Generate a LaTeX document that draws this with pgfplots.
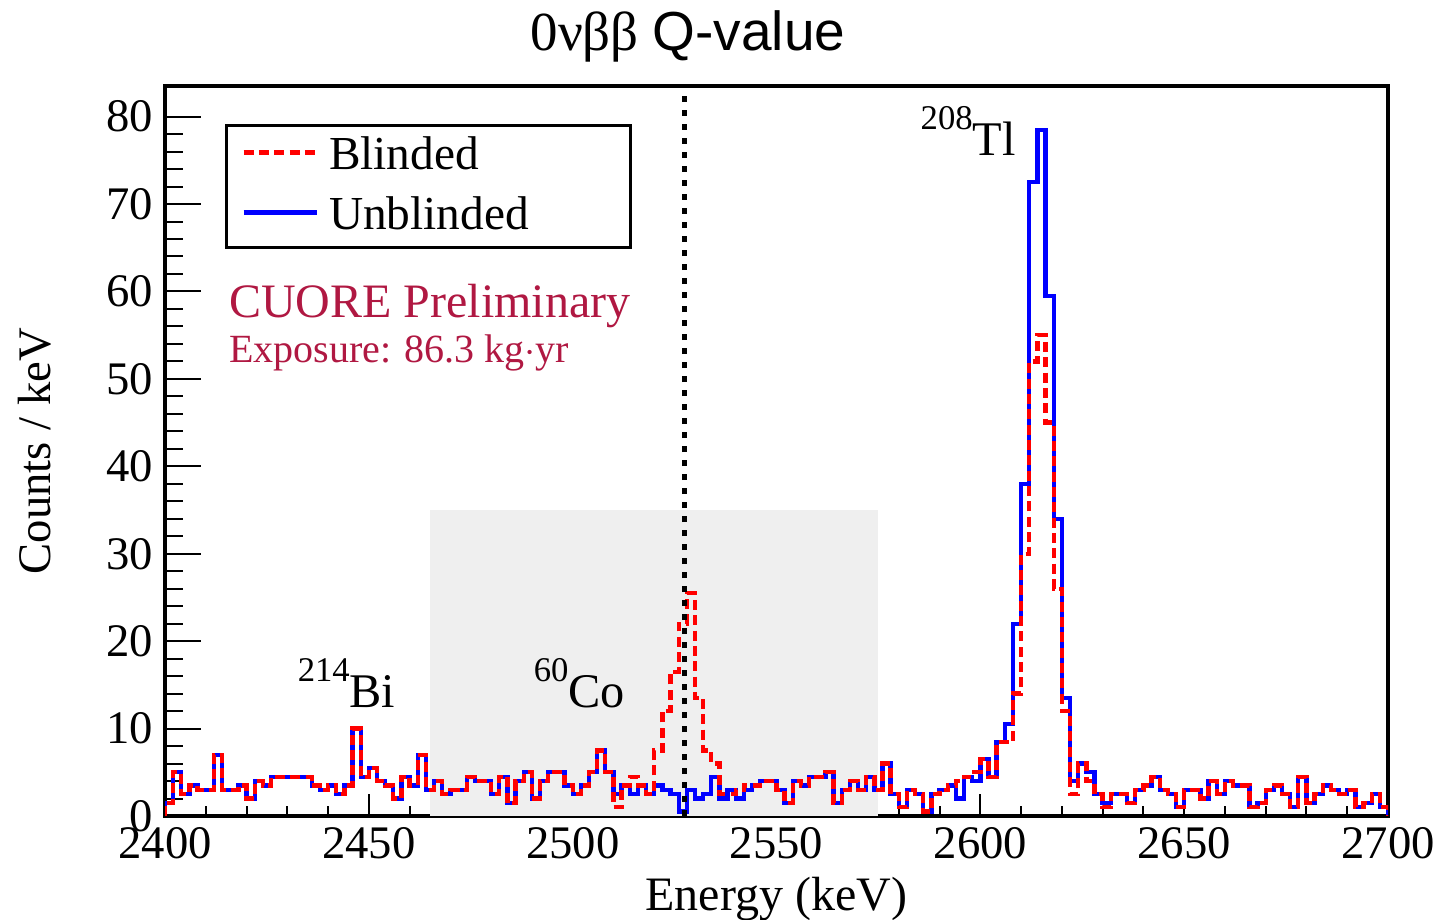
\documentclass[border=0pt]{standalone}
\usepackage{fontspec}
\setmainfont{Liberation Serif}
\newfontfamily\sansfont{Liberation Sans}
\usepackage{pgfplots}
\usepackage{pgfplotstable}
\pgfplotsset{compat=1.18}
\definecolor{shade}{RGB}{239,239,239}
\definecolor{cuore}{RGB}{176,24,66}

\pgfplotstableread{
x b r
2400 0 0
2400 1.5 1.5
2402 5 5
2404 2.5 2.5
2406 3.5 3.5
2408 3 3
2410 3 3
2412 7 7
2414 3 3
2416 3 3
2418 3.5 3.5
2420 2 2
2422 4 4
2424 3.5 3.5
2426 4.5 4.5
2428 4.5 4.5
2430 4.5 4.5
2432 4.5 4.5
2434 4.5 4.5
2436 3.5 3.5
2438 3 3
2440 3.5 3.5
2442 2.5 2.5
2444 3.5 3.5
2446 10 10
2448 4.5 4.5
2450 5.5 5.5
2452 4 4
2454 3.5 3.5
2456 2 2
2458 4.5 4.5
2460 3.5 3.5
2462 7 7
2464 3 3
2466 4 4
2468 2.5 2.5
2470 3 3
2472 3 3
2474 4.5 4.5
2476 4 4
2478 4 4
2480 2.5 2.5
2482 4.5 4.5
2484 1.5 1.5
2486 4 4
2488 5 5
2490 2 2
2492 4 4
2494 5 5
2496 5 5
2498 3.5 3.5
2500 2.5 2.5
2502 3.5 3.5
2504 5 5
2506 7.5 7.5
2508 5 5
2510 2.5 1
2512 3.5 3.5
2514 2.5 4.5
2516 3.5 3.5
2518 2.5 2.5
2520 3.5 7.5
2522 3 12
2524 2.5 16.5
2526 0.5 22
2528 3 25.5
2530 2 13.5
2532 2.5 7.5
2534 4.5 6
2536 2 2.5
2538 3 2.5
2540 2 3
2542 3 3.5
2544 3.5 3.5
2546 4 4
2548 4 4
2550 3 3
2552 1.5 1.5
2554 4 4
2556 3.5 3.5
2558 4.5 4.5
2560 4.5 4.5
2562 5 5
2564 1.5 1.5
2566 3 3
2568 4 4
2570 3 3
2572 4.5 4.5
2574 3 3
2576 6 6
2578 2.5 2.5
2580 1 1
2582 3 3
2584 2.5 2.5
2586 0.5 0.5
2588 2.5 2.5
2590 3 3
2592 3.5 3.5
2594 2 4
2596 4.5 4.5
2598 4 5
2600 6.5 6.5
2602 4.5 4.5
2604 8.5 8.5
2606 10.5 8.5
2608 22 14
2610 38 30
2612 72.5 52
2614 78.5 55
2616 59.5 45
2618 34 26
2620 13.5 12
2622 4 2.5
2624 6 6
2626 5 4
2628 2.5 2.5
2630 1.5 1
2632 2.5 2.5
2634 2.5 2.5
2636 1.5 1.5
2638 3 3
2640 3.5 3.5
2642 4.5 4.5
2644 3 3
2646 2.5 2.5
2648 1 1
2650 3 3
2652 3 3
2654 2 2
2656 4 4
2658 2.5 2.5
2660 4 4
2662 3.5 3.5
2664 3.5 3.5
2666 1 1
2668 1.5 1.5
2670 3 3
2672 3.5 3.5
2674 2.5 2.5
2676 1 1
2678 4.5 4.5
2680 1.5 1.5
2682 2.5 2.5
2684 3.5 3.5
2686 3 3
2688 2.5 2.5
2690 3 3
2692 1 1
2694 1.5 1.5
2696 2.5 2.5
2698 1 1
2700 1 1
2700 0 0
}\spectrum

\begin{document}
\begin{tikzpicture}
\path[use as bounding box] (-49.5pt,-30.9pt) rectangle (383.1pt,244.8pt);
\begin{axis}[
  at={(0pt,0pt)}, anchor=south west,
  scale only axis, width=366.9pt, height=219pt,
  xmin=2400, xmax=2700, ymin=0, ymax=83.5,
  xtick={2400,2450,...,2700}, ytick={0,10,...,80},
  minor x tick num=4, minor y tick num=4,
  tick pos=left, tick align=inside,
  major tick length=10.8pt, minor tick length=5.4pt,
  xtick style={/pgfplots/major tick length=6.6pt,/pgfplots/minor tick length=3pt},
  every tick/.style={black, line width=0.6pt},
  axis line style={line width=1.2pt},
  /pgf/number format/1000 sep={},
  /pgf/number format/assume math mode=true,
  ticklabel style={font=\fontsize{14}{16}\selectfont},
  xlabel={Energy (keV)}, ylabel={Counts / keV},
  xlabel style={font=\fontsize{14.4}{16}\selectfont, at={(axis description cs:0.5,-0.1301)}, anchor=base},
  ylabel style={font=\fontsize{14}{16}\selectfont, at={(axis description cs:-0.094,0.5)}, anchor=base},
  title={0νββ {\sansfont Q-value}},
  every axis title/.style={font=\fontsize{16.5}{18}\selectfont, inner sep=0pt, at={(axis description cs:0.2984,1.0493)}, anchor=base west},
  reverse legend,
  legend cell align=left,
  legend image code/.code={\draw[#1] (0pt,1.2pt) -- (21.9pt,1.2pt); \path (25pt,0pt);},
  legend style={at={(axis description cs:0.049,0.948)}, anchor=north west,
    draw=black, line width=0.9pt, fill=white,
    inner xsep=4.5pt, inner ysep=2.4pt, row sep=4.2pt,
    font=\fontsize{14.2}{16}\selectfont,
    nodes={inner sep=0pt, text height=10.8pt, text depth=3pt, text width=86pt}},
]
\addplot[forget plot, draw=none, fill=shade] coordinates {(2465,0) (2465,35) (2575,35) (2575,0)} -- cycle;
\addplot[const plot mark left, blue, line width=1.3pt] table[x=x, y=b] {\spectrum};
\addlegendentry{Unblinded}
\addplot[const plot mark left, red, line width=1.3pt, dash pattern=on 3pt off 1.6pt] table[x=x, y=r] {\spectrum};
\addlegendentry{Blinded}
\addplot[forget plot, black, line width=1.4pt, dash pattern=on 1.8pt off 2.4pt] coordinates {(2527.5,0) (2527.5,83.5)};

\node[anchor=base west, inner sep=0pt, font=\fontsize{14.5}{16}\selectfont] at (axis cs:2585.2,75.6) {\raisebox{7.8pt}{\fontsize{10.4}{12}\selectfont 208}Tl};
\node[anchor=base west, inner sep=0pt, font=\fontsize{14.5}{16}\selectfont] at (axis cs:2432.4,12.36) {\raisebox{7.8pt}{\fontsize{10.4}{12}\selectfont 214}Bi};
\node[anchor=base west, inner sep=0pt, font=\fontsize{14.5}{16}\selectfont] at (axis cs:2490.3,12.36) {\raisebox{7.8pt}{\fontsize{10.4}{12}\selectfont 60}Co};
\node[anchor=base west, inner sep=0pt, text=cuore, font=\fontsize{14.4}{16}\selectfont] at (axis cs:2415.6,57.06) {CUORE Preliminary};
\node[anchor=base west, inner sep=0pt, text=cuore, font=\fontsize{12}{14}\selectfont] at (axis cs:2415.6,51.86) {Exposure: 86.3 kg$\cdot$yr};
\end{axis}
\end{tikzpicture}
\end{document}
